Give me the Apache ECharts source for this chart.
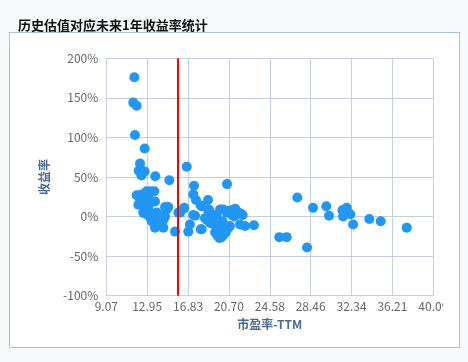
<!DOCTYPE html>
<html><head><meta charset="utf-8">
<script src="https://cdn.jsdelivr.net/npm/echarts@6/dist/echarts.min.js"></script>
<style>
html,body{margin:0;padding:0;background:#f8f9fb;width:468px;height:362px;overflow:hidden;}
#box{position:absolute;left:9px;top:32px;width:449px;height:314px;border:1px solid #a9c1e0;background:#fff;}
#clip{position:absolute;left:0;top:0;width:443px;height:362px;overflow:hidden;}
#chart{position:absolute;left:0;top:0;width:468px;height:362px;}
</style></head>
<body>
<div id="box"></div>
<div id="clip"><div id="chart"></div></div>
<script>
const title = '历史估值对应未来1年收益率统计';
const xName = '市盈率-TTM';
const yName = '收益率';
const xTickLabels = ['9.07','12.95','16.83','20.70','24.58','28.46','32.34','36.21','40.09'];
const xStart = 9.07, xStep = 3.8775;
const currentPE = 15.84;
// [PE, return %]
const pe = [
 11.73,11.63,11.95,11.79,12.71,12.27,12.14,12.43,12.71,12.40,13.72,15.05,16.70,17.39,20.52,
 11.95,12.43,12.90,13.22,13.62,13.05,13.69,12.11,12.58,13.22,14.64,14.95,16.47,17.32,17.58,18.03,18.72,18.81,16.37,14.80,18.12,
 12.58,12.90,13.85,15.90,17.49,12.74,13.38,14.00,14.64,16.06,17.32,19.22,19.86,20.17,19.54,20.49,20.64,21.00,21.30,21.50,21.80,22.00,20.90,21.20,18.75,18.43,18.60,
 12.27,12.74,13.07,13.85,14.50,13.06,13.22,
 13.38,13.69,14.48,14.00,15.59,17.00,16.85,18.03,18.91,18.12,19.22,21.75,22.23,23.08,
 19.40,19.60,19.80,20.00,20.20,20.40,19.70,20.00,20.30,20.60,19.50,20.80,19.90,19.30,20.10,
 27.19,28.68,29.94,30.20,31.46,31.87,32.22,31.53,32.48,34.02,35.10,37.57,25.48,26.18,28.11
];
const ret = [
 176,144,140,103,86,67,58,55,57,52,51,46,63,39,41,
 27,28,32,32,32,26,19,15,15,17,12,12,11,28,21,14,21,9,10,9,13,
 5,3,5,5,1,4,2,3,0,5,2,2,9,9,2,5,7,8,10,6,4,2,3,0,7,-2,-4,
 21,13,20,0,-4,9,-1,
 -6,-14,-14,-8,-19,-10,-19,-16,-8,-16,-8,-10,-12,-11,
 -20,-24,-27,-26,-23,-20,-18,-14,-17,-15,-13,-12,-22,-10,-6,
 24,11,13,1,8,11,3,0,-10,-3,-6,-14,-26,-26,-39
];
const toAxis = v => (v - xStart) / xStep;
const data = pe.map((p, i) => [toAxis(p), ret[i]]);
const gridColor = '#c3cfe0';
const chart = echarts.init(document.getElementById('chart'));
chart.setOption({
  animation: false,
  title: { text: title, left: 13, top: 14, textStyle: { fontSize: 13, fontWeight: 'bold', color: '#111', fontFamily: 'Noto Sans CJK SC' } },
  grid: { left: 106.3, top: 58.3, right: 34.7, bottom: 66.3 },
  xAxis: {
    type: 'value', min: 0, max: 8, interval: 1,
    name: xName, nameLocation: 'middle', nameGap: 23,
    nameTextStyle: { color: '#4a6b95', fontWeight: 'bold', fontSize: 12, fontFamily: 'Noto Sans CJK SC' },
    axisLine: { show: true, lineStyle: { color: gridColor } },
    axisTick: { show: false },
    axisLabel: { color: '#666', fontSize: 12, margin: 5, fontFamily: 'Noto Sans CJK SC', formatter: v => xTickLabels[Math.round(v)] },
    splitLine: { show: true, lineStyle: { color: gridColor } }
  },
  yAxis: {
    type: 'value', min: -100, max: 200, interval: 50,
    name: yName, nameLocation: 'middle', nameGap: 56, nameRotate: 90,
    nameTextStyle: { color: '#4a6b95', fontWeight: 'bold', fontSize: 12, fontFamily: 'Noto Sans CJK SC' },
    axisLine: { show: true, lineStyle: { color: gridColor } },
    axisTick: { show: false },
    axisLabel: { color: '#666', fontSize: 12, margin: 8, fontFamily: 'Noto Sans CJK SC', formatter: '{value}%' },
    splitLine: { show: true, lineStyle: { color: gridColor } }
  },
  series: [{
    type: 'scatter', data: data, symbolSize: 10,
    itemStyle: { color: '#2196f3', opacity: 1 },
    markLine: {
      silent: true, symbol: 'none', label: { show: false },
      lineStyle: { color: '#ff0000', width: 2, type: 'solid' },
      data: [{ xAxis: toAxis(currentPE) }]
    }
  }]
});
</script>
</body></html>
